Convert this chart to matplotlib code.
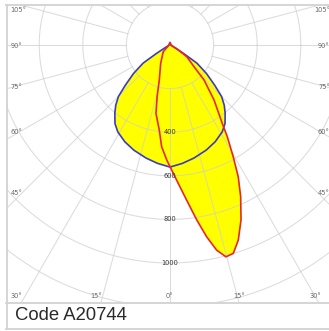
import numpy as np
import matplotlib
matplotlib.use("Agg")
import matplotlib.pyplot as plt
from matplotlib.lines import Line2D

# ---- data (gamma angle from nadir in degrees, intensity in cd) ----
# C0-C180 plane (symmetric, blue)
blue_gamma = [0, 6, 12, 19, 25, 31, 35, 37, 39, 42, 45, 48, 52, 56, 58, 60, 65, 75, 90, 180]
blue_cd = [560, 546, 530, 510, 490, 465, 440, 420, 402, 372, 335, 276, 212, 149, 75, 35, 12, 6, 5, 10]

# C90-C270 plane (asymmetric, red); negative gamma = left side
red_gamma = [-180, -90, -60, -45, -27, -17, -14, -11.6, -7.2, -4.7, -1.6, 0, 3.4, 6.1,
             8.7, 10.8, 12.8, 14.8, 16.9, 19.3, 22.1, 25, 27.4, 29.5, 32, 33.7, 38.7,
             44.2, 47.9, 55, 60, 65, 90, 180]
red_cd = [10, 5, 10, 44, 94, 168, 244, 320, 393, 468, 528, 558, 636, 715,
          812, 895, 965, 1005, 999, 948, 866, 767, 680, 589, 496, 432, 323,
          224, 149, 94, 40, 15, 5, 10]

ring_values = [200, 400, 600, 800, 1000, 1200, 1400]
ring_labels = ["400", "600", "800", "1000"]
angle_labels_side = ["105°", "90°", "75°", "60°", "45°"]
angle_labels_bottom = ["30°", "15°", "0°", "15°", "30°"]
caption = "Code A20744"

# ---- layout helpers ----
W, H = 329, 331
CX, CY = 170, 45          # centre of the polar diagram in pixels
S = 200 / 43.6            # cd per pixel


def px2d(px, py):
    return (px - CX) * S, (CY - py) * S


fig = plt.figure(figsize=(W / 100, H / 100), dpi=100)
ax = fig.add_axes([7 / W, 1 - 302 / H, (329 - 7) / W, (302 - 5) / H])
x0, _ = px2d(7, 0)
x1, _ = px2d(329, 0)
_, y0 = px2d(0, 302)
_, y1 = px2d(0, 5)
ax.set_xlim(x0, x1)
ax.set_ylim(y0, y1)
ax.axis("off")


def polar_xy(gammas, cds):
    g = np.radians(np.asarray(gammas, dtype=float))
    r = np.asarray(cds, dtype=float)
    return r * np.sin(g), -r * np.cos(g)


# full blue curve (mirror of the symmetric plane)
bg = [-g for g in reversed(blue_gamma[1:])] + blue_gamma
bc = list(reversed(blue_cd[1:])) + blue_cd
bx, by = polar_xy(bg, bc)
rx, ry = polar_xy(red_gamma, red_cd)

ax.fill(bx, by, color="#ffff00", lw=0, zorder=1)
ax.fill(rx, ry, color="#ffff00", lw=0, zorder=1)

# grid
gc = "#cdcdcd"
t = np.linspace(0, 2 * np.pi, 400)
for rv in ring_values:
    ax.plot(rv * np.cos(t), rv * np.sin(t), color=gc, lw=0.75, alpha=0.7, zorder=2)
for a in range(0, 360, 15):
    ar = np.radians(a)
    ax.plot([200 * np.sin(ar), 2500 * np.sin(ar)], [-200 * np.cos(ar), -2500 * np.cos(ar)],
            color=gc, lw=0.75, alpha=0.7, zorder=2)

ax.plot(bx, by, color="#3b3bc4", lw=1.2, zorder=3, solid_joinstyle="round")
ax.plot(rx, ry, color="#e8262a", lw=1.2, zorder=4, solid_joinstyle="round")

# ring labels
for lab in ring_labels:
    v = float(lab)
    ax.text(0, -v, lab, ha="center", va="center", fontsize=4.8, color="#333333",
            family="DejaVu Sans", zorder=5)

# angle labels (left/right edges)
side_y = [10.5, 46.5, 87, 132, 193]
for lab, yy in zip(angle_labels_side, side_y):
    fig.text(10.5 / W, 1 - yy / H, lab, ha="left", va="center", fontsize=4.8,
             color="#666666", family="DejaVu Sans")
    fig.text(314 / W if lab == "105°" else 318 / W, 1 - yy / H, lab, ha="left", va="center",
             fontsize=4.8, color="#666666", family="DejaVu Sans")
bottom_x = [16.5, 96.5, 169.5, 239, 315]
for lab, xx in zip(angle_labels_bottom, bottom_x):
    fig.text(xx / W, 1 - 296 / H, lab, ha="center", va="center", fontsize=4.8,
             color="#666666", family="DejaVu Sans")

# frame
fc = "#d2d2d2"
def fline(xa, ya, xb, yb):
    fig.add_artist(Line2D([xa / W, xb / W], [1 - ya / H, 1 - yb / H], color=fc, lw=1.3))

fline(6, 5, 329, 5)
fline(7, 5, 7, 329)
fline(6, 302.5, 329, 302.5)
fline(6, 329, 329, 329)

fig.text(15 / W, 1 - 316 / H, caption, ha="left", va="center", fontsize=13.3,
         color="#2a2a2a", family="Liberation Sans")

fig.savefig("out.png", dpi=100)
